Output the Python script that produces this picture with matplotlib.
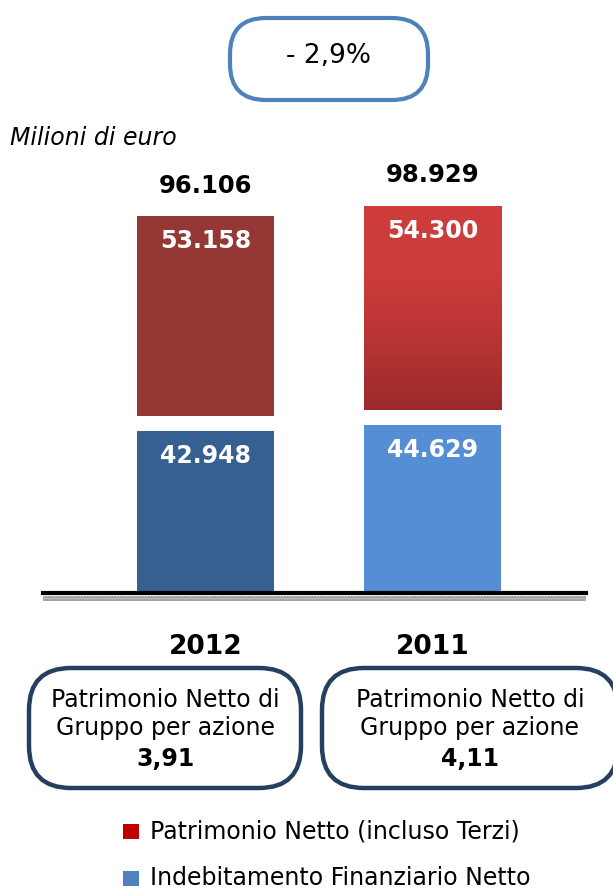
import numpy as np
import matplotlib.pyplot as plt
from matplotlib.patches import FancyBboxPatch, Rectangle
from matplotlib.colors import LinearSegmentedColormap

years = ["2012", "2011"]
patrimonio = [53158, 54300]       # Patrimonio Netto (incluso Terzi)
indebitamento = [42948, 44629]    # Indebitamento Finanziario Netto
per_azione = ["3,91", "4,11"]
variazione = "- 2,9%"
unita = "Milioni di euro"
box_label = "Patrimonio Netto di\nGruppo per azione"
legend_labels = ["Patrimonio Netto (incluso Terzi)", "Indebitamento Finanziario Netto"]


def fmt(v):
    return f"{v:,}".replace(",", ".")


red_cols = ["#953735", "#C0393A"]
blue_cols = ["#376092", "#558ED5"]
legend_cols = ["#C00000", "#4F81BD"]
box_edge = "#243F60"

fig = plt.figure(figsize=(6.13, 8.93), dpi=100)

# overlay in pixel coordinates for boxes, legend and decorations
lay = fig.add_axes([0, 0, 1, 1])
lay.set_xlim(0, 613)
lay.set_ylim(893, 0)
lay.axis("off")

ax = fig.add_axes([43 / 613, 300 / 893, 543 / 613, 463 / 893])
ax.patch.set_visible(False)

x = np.arange(len(years))
gap = 4000
width = 0.604
bottoms = np.array(indebitamento) + gap
b1 = ax.bar(x, indebitamento, width=width, color=blue_cols, zorder=2)
b2 = ax.bar(x, patrimonio, bottom=bottoms, width=width, color=red_cols, zorder=2)

# gradient on the 2011 red segment
bar = b2[1]
grad = np.linspace(0, 1, 256).reshape(-1, 1)
cmap = LinearSegmentedColormap.from_list("rg", ["#9C2A2A", "#B83434", "#CB3C3A", "#CE3D3B"])
im = ax.imshow(grad, extent=[bar.get_x(), bar.get_x() + bar.get_width(),
                             bar.get_y(), bar.get_y() + bar.get_height()],
               origin="lower", cmap=cmap, aspect="auto", zorder=2.5)
im.set_clip_path(bar)

ax.set_xlim(-0.716, 1.676)
ax.set_ylim(0, 123000)
for s in ["top", "left", "right"]:
    ax.spines[s].set_visible(False)
ax.spines["bottom"].set_linewidth(3)
ax.spines["bottom"].set_color("black")
ax.spines["bottom"].set_zorder(3)
ax.set_xticks([])
ax.set_yticks([])

for i in range(len(years)):
    tot = indebitamento[i] + patrimonio[i]
    top = bottoms[i] + patrimonio[i]
    ax.annotate(fmt(tot), xy=(x[i], top), xytext=(0, 22), textcoords="offset points",
                ha="center", va="center", fontsize=17.5, fontweight="bold",
                annotation_clip=False)
    ax.annotate(fmt(patrimonio[i]), xy=(x[i], top), xytext=(0, -18), textcoords="offset points",
                ha="center", va="center", fontsize=17, fontweight="bold", color="white", zorder=4)
    ax.annotate(fmt(indebitamento[i]), xy=(x[i], indebitamento[i]), xytext=(0, -18),
                textcoords="offset points", ha="center", va="center", fontsize=17,
                fontweight="bold", color="white", zorder=4)
    ax.annotate(years[i], xy=(x[i], 0), xytext=(0, -39), textcoords="offset points",
                ha="center", va="center", fontsize=19, fontweight="bold",
                annotation_clip=False)

# grey shadow band under the baseline
lay.add_patch(Rectangle((43, 596), 543, 5, facecolor="#BDBDBD", edgecolor="#8C8C8C",
                        hatch="......", linewidth=0))

# top variation box
lay.add_patch(FancyBboxPatch((230 + 36, 18 + 36), 198 - 72, 82 - 72,
                             boxstyle="round,pad=36", facecolor="white",
                             edgecolor="#4F81BD", linewidth=3))
lay.text(328, 56, variazione, ha="center", va="center", fontsize=19)

lay.text(10, 138, unita, ha="left", va="center", fontsize=17, style="italic")

# per-share boxes
box_x = [29, 322]
box_w = [272, 296]
for i in range(len(years)):
    r = 42
    lay.add_patch(FancyBboxPatch((box_x[i] + r, 668 + r), box_w[i] - 2 * r, 120 - 2 * r,
                                 boxstyle=f"round,pad={r}", facecolor="white",
                                 edgecolor=box_edge, linewidth=3.2, clip_on=False))
    cx = box_x[i] + box_w[i] / 2
    lay.text(cx, 714, box_label, ha="center", va="center", fontsize=17, linespacing=1.2)
    lay.text(cx, 759, per_azione[i], ha="center", va="center", fontsize=17, fontweight="bold")

# legend
leg_y = [831, 878]
for lab, col, yy in zip(legend_labels, legend_cols, leg_y):
    lay.add_patch(Rectangle((123, yy - 7.5), 16, 15, facecolor=col, edgecolor="none"))
    lay.text(150, yy, lab, ha="left", va="center", fontsize=17)

fig.savefig("out.png", dpi=100)
